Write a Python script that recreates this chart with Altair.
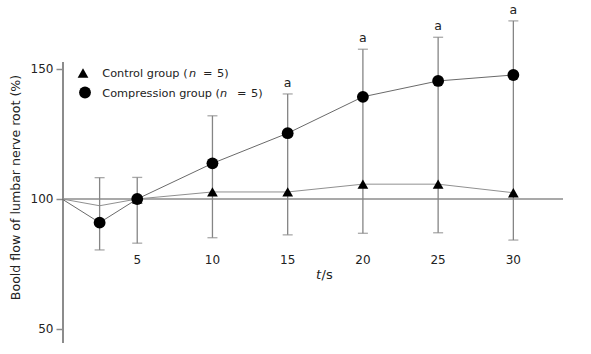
import altair as alt
import pandas as pd

# ---- data ----
times = [0, 2.5, 5, 10, 15, 20, 25, 30]
control = [100, 97.4, 100, 102.7, 102.7, 105.7, 105.7, 102.4]
compression = [100, 90.9, 100, 113.7, 125.3, 139.3, 145.4, 147.7]
ctrl_marker_from = 5
comp_marker_from = 2.5

err_t = [2.5, 5, 10, 15, 20, 25, 30]
err_lo = [80.4, 83.0, 85.1, 86.2, 86.8, 87.0, 84.2]
err_hi = [108.2, 108.3, 132.0, 140.4, 157.6, 162.2, 168.5]

sig_t = [15, 20, 25, 30]
sig_label = ["a", "a", "a", "a"]

x_ticks = [5, 10, 15, 20, 25, 30]
y_ticks = [50, 100, 150]
y_axis_span = [44.6, 152.7]
x_axis_span = [0, 33.3]
x_label_level = 76.6

FONT = "DejaVu Sans"
XDOM = [0, 33.3]
YDOM = [44.6, 175]

df = pd.DataFrame({"t": times, "control": control, "compression": compression})
ctrl_pts = df[df.t >= ctrl_marker_from]
comp_pts = df[df.t >= comp_marker_from]
err = pd.DataFrame({"t": err_t, "lo": err_lo, "hi": err_hi})
sig = pd.DataFrame({"t": sig_t, "label": sig_label,
                    "hi": [err_hi[err_t.index(t)] for t in sig_t]})

xs = alt.Scale(domain=XDOM, nice=False, zero=False)
ys = alt.Scale(domain=YDOM, nice=False, zero=False)

base = alt.Chart(df)

yaxis = alt.Chart(pd.DataFrame({"y": y_ticks})).mark_point(opacity=0).encode(
    x=alt.X("y:Q", scale=xs, axis=None),
    y=alt.Y("y:Q", scale=ys, axis=alt.Axis(
        values=y_ticks, domain=False, grid=False, tickSize=6, tickColor="#8c8c8c",
        tickWidth=1.5, labelFont=FONT, labelFontSize=12, labelColor="#222",
        labelPadding=3, title="Boold flow of lumbar nerve root (%)",
        titleFont=FONT, titleFontSize=12.6, titleFontWeight="normal",
        titleColor="#222", titleX=-40, titleY=183, titleAngle=-90,
        titleBaseline="bottom", titleAlign="center")),
)

yline = alt.Chart(pd.DataFrame({"a": [y_axis_span[0]], "b": [y_axis_span[1]]})).mark_rule(
    color="#8c8c8c", strokeWidth=2).encode(
    x=alt.value(1), y=alt.Y("a:Q", scale=ys), y2="b:Q")

xline = alt.Chart(pd.DataFrame({"a": [x_axis_span[0]], "b": [x_axis_span[1]], "y": [100]})).mark_rule(
    color="#8c8c8c", strokeWidth=1.5).encode(
    x=alt.X("a:Q", scale=xs), x2="b:Q", y=alt.Y("y:Q", scale=ys))

xlabels = alt.Chart(pd.DataFrame({"t": x_ticks, "y": [x_label_level] * len(x_ticks)})).mark_text(
    font=FONT, fontSize=12, color="#222", baseline="middle").encode(
    x=alt.X("t:Q", scale=xs), y=alt.Y("y:Q", scale=ys), text=alt.Text("t:Q"))

ctrl_line = base.mark_line(color="#909090", strokeWidth=1).encode(
    x=alt.X("t:Q", scale=xs), y=alt.Y("control:Q", scale=ys))
comp_line = base.mark_line(color="#6a6a6a", strokeWidth=1).encode(
    x=alt.X("t:Q", scale=xs), y=alt.Y("compression:Q", scale=ys))

err_rule = alt.Chart(err).mark_rule(color="#858585", strokeWidth=1.3).encode(
    x=alt.X("t:Q", scale=xs), y=alt.Y("lo:Q", scale=ys), y2="hi:Q")
cap_lo = alt.Chart(err).mark_tick(color="#858585", orient="horizontal", size=10, thickness=1.3).encode(
    x=alt.X("t:Q", scale=xs), y=alt.Y("lo:Q", scale=ys))
cap_hi = alt.Chart(err).mark_tick(color="#858585", orient="horizontal", size=10, thickness=1.3).encode(
    x=alt.X("t:Q", scale=xs), y=alt.Y("hi:Q", scale=ys))

ctrl_mk = alt.Chart(ctrl_pts).mark_point(shape="triangle-up", filled=True, color="black",
                                         size=115, opacity=1).encode(
    x=alt.X("t:Q", scale=xs), y=alt.Y("control:Q", scale=ys))
comp_mk = alt.Chart(comp_pts).mark_point(shape="circle", filled=True, color="black",
                                         size=140, opacity=1).encode(
    x=alt.X("t:Q", scale=xs), y=alt.Y("compression:Q", scale=ys))

sig_txt = alt.Chart(sig).mark_text(font=FONT, fontSize=12.5, color="#222",
                                   baseline="bottom", dy=-4).encode(
    x=alt.X("t:Q", scale=xs), y=alt.Y("hi:Q", scale=ys), text="label:N")

# legend (manual)
leg_sym = alt.Chart(pd.DataFrame({"s": ["triangle-up", "circle"], "px": [21, 23], "py": [69, 88.5],
                                  "sz": [115, 140]})).mark_point(
    filled=True, color="black", opacity=1).encode(
    x=alt.X("px:Q", scale=None), y=alt.Y("py:Q", scale=None),
    shape=alt.Shape("s:N", scale=None, legend=None),
    size=alt.Size("sz:Q", scale=None, legend=None))

leg_rows = pd.DataFrame({
    "txt": ["Control group (", "n", "=", "5)", "Compression group (", "n", "=", "5)"],
    "px": [40.3, 127, 141, 155, 40.3, 158, 175, 189],
    "py": [69.7, 69.7, 69.7, 69.7, 89.7, 89.7, 89.7, 89.7],
    "st": ["normal", "italic", "normal", "normal", "normal", "italic", "normal", "normal"],
})
LEG_FS = 11.3
leg_norm = alt.Chart(leg_rows[leg_rows.st == "normal"]).mark_text(
    font=FONT, fontSize=LEG_FS, color="#222", align="left", baseline="middle").encode(
    x=alt.X("px:Q", scale=None), y=alt.Y("py:Q", scale=None), text="txt:N")
leg_ital = alt.Chart(leg_rows[leg_rows.st == "italic"]).mark_text(
    font=FONT, fontSize=LEG_FS, color="#222", align="left", baseline="middle",
    fontStyle="italic").encode(
    x=alt.X("px:Q", scale=None), y=alt.Y("py:Q", scale=None), text="txt:N")

ttl = pd.DataFrame({"txt": ["t", "/s"], "px": [254, 259.5], "py": [271, 271],
                    "st": ["italic", "normal"]})
ttl_i = alt.Chart(ttl[ttl.st == "italic"]).mark_text(
    font=FONT, fontSize=13, color="#222", align="left", baseline="middle", fontStyle="italic").encode(
    x=alt.X("px:Q", scale=None), y=alt.Y("py:Q", scale=None), text="txt:N")
ttl_n = alt.Chart(ttl[ttl.st == "normal"]).mark_text(
    font=FONT, fontSize=13, color="#222", align="left", baseline="middle").encode(
    x=alt.X("px:Q", scale=None), y=alt.Y("py:Q", scale=None), text="txt:N")

chart = alt.layer(
    yaxis, yline, xline, xlabels, ctrl_line, comp_line, err_rule, cap_lo, cap_hi,
    ctrl_mk, comp_mk, sig_txt, leg_sym, leg_norm, leg_ital, ttl_i, ttl_n
).properties(
    width=501, height=339,
    autosize=alt.AutoSizeParams(type="none"),
    padding={"left": 62, "top": 4, "right": 28, "bottom": 11},
    background="white",
).configure_view(stroke=None)

chart.save("out.html", embed_options={"renderer": "svg", "actions": False})
